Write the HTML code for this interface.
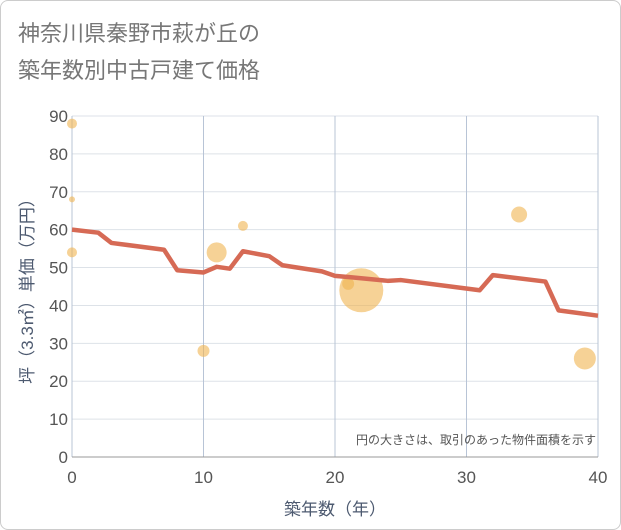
<!DOCTYPE html>
<html><head><meta charset="utf-8"><style>
body{margin:0;background:#fff;}
#wrap{width:619px;height:528px;border:1px solid #ccc;border-radius:8px;position:relative;background:#fff;overflow:hidden;}
text{font-family:"Liberation Sans","Noto Sans CJK JP",sans-serif;}
</style></head><body>
<div id="wrap">
<svg id="chart" width="621" height="530">
<text x="17" y="40" font-size="22" fill="#777">神奈川県秦野市萩が丘の</text>
<text x="17" y="77" font-size="22" fill="#777">築年数別中古戸建て価格</text>
<g id="grid"></g><g id="axes"></g><g id="marks"></g>
<text x="595" y="443" font-size="12" fill="#555" text-anchor="end">円の大きさは、取引のあった物件面積を示す</text>
<text x="334" y="514" font-size="17" fill="#4d5a70" text-anchor="middle">築年数（年）</text>
<text transform="translate(32,286) rotate(-90)" font-size="17" fill="#4d5a70" text-anchor="middle">坪（3.3㎡）単価（万円）</text>
</svg></div>
<script>
const xTicks=[0,10,20,30,40];
const yTicks=[0,10,20,30,40,50,60,70,80,90];
const lineYears=[0,2,3,7,8,10,11,12,13,15,16,19,20,21,24,25,31,32,36,37,40];
const lineValues=[60,59.2,56.5,54.7,49.3,48.7,50.2,49.7,54.3,53,50.6,49,47.8,47.5,46.5,46.7,44,48,46.3,38.7,37.3];
const bubbleYears=[0,0,0,10,11,13,21,22,34,39];
const bubbleValues=[88,68,54,28,54,61,45.7,44,64,26];
const bubbleSizes=[5,3,5,6,10,5,6,22,8,11];
const NS='http://www.w3.org/2000/svg';
const X0=71,X1=597,Y0=456,Y1=115;
const xs=v=>X0+(v-0)/40*(X1-X0);
const ys=v=>Y0-(v/90)*(Y0-Y1);
function mk(t,a,p){const e=document.createElementNS(NS,t);for(const k in a)e.setAttribute(k,a[k]);p.appendChild(e);return e;}
const grid=document.getElementById('grid'),axes=document.getElementById('axes'),marks=document.getElementById('marks');
yTicks.forEach(v=>{
const l=mk('line',{x1:X0,x2:X1,y1:ys(v),y2:ys(v),stroke:'#dde2e8','stroke-width':1},grid);


const t=mk('text',{x:X0-4,y:ys(v)+6,'font-size':17,fill:'#555','text-anchor':'end'},axes);
t.textContent=v;


});
xTicks.forEach(v=>{
const l=mk('line',{x1:xs(v),x2:xs(v),y1:Y1,y2:Y0,stroke:'#b8c4d6','stroke-width':1},grid);


const t=mk('text',{x:xs(v),y:Y0+26,'font-size':17,fill:'#555','text-anchor':'middle'},axes);
t.textContent=v;


});
const ax=mk('line',{x1:X0,x2:X1,y1:Y0,y2:Y0,stroke:'#999','stroke-width':1},axes);


bubbleYears.forEach((v,i)=>{
const c=mk('circle',{cx:xs(v),cy:ys(bubbleValues[i]),r:bubbleSizes[i],fill:'rgba(240,180,80,0.6)'},marks);


});
const p=mk('polyline',{points:lineYears.map((v,i)=>xs(v)+','+ys(lineValues[i])).join(' '),fill:'none',stroke:'#d66a55','stroke-width':4.5,'stroke-linejoin':'round'},marks);


</script>
</body></html>
